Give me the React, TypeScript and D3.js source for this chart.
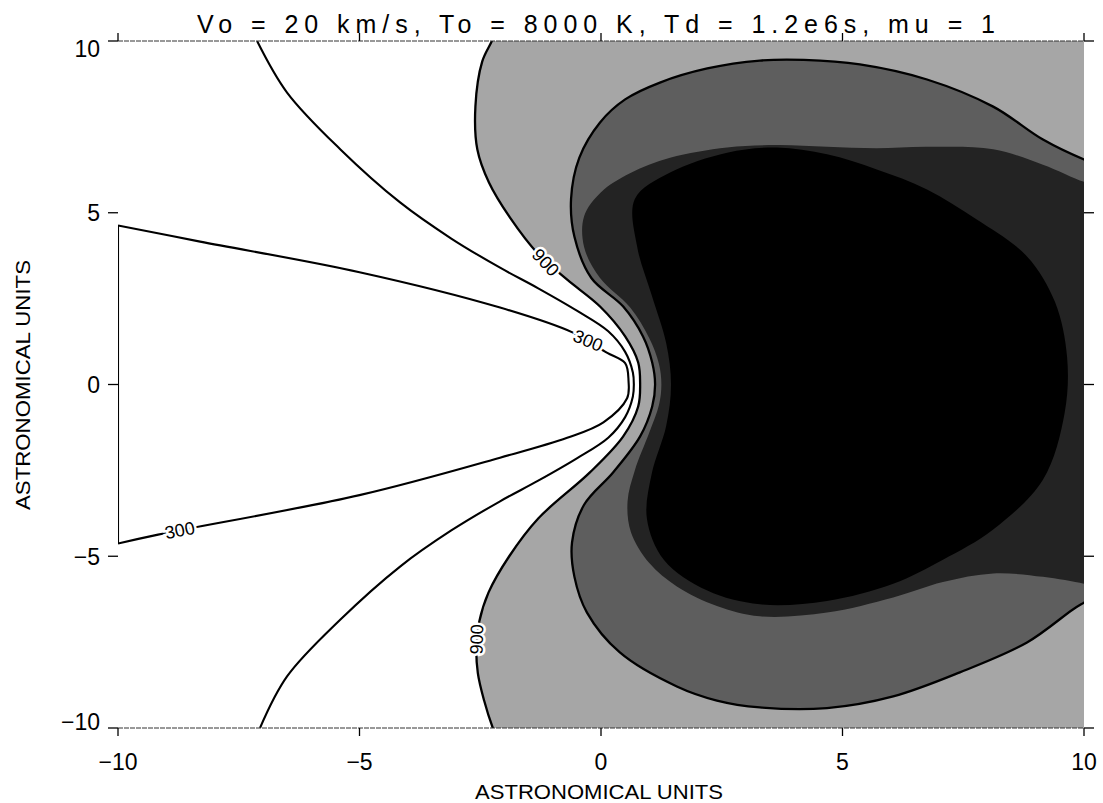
import React from "react";
import * as d3 from "d3";

type Pt = [number, number];

// ---- text / ticks ----
const titleText = "Vo = 20 km/s, To = 8000 K, Td = 1.2e6s, mu = 1";
const xAxisTitle = "ASTRONOMICAL UNITS";
const yAxisTitle = "ASTRONOMICAL UNITS";
const xTicks = [-10, -5, 0, 5, 10];
const yTicks = [-10, -5, 0, 5, 10];

// ---- contour lines (data units, AU) ----
const contour300: Pt[] = [
  [-10, 4.63], [-8.3, 4.16], [-5, 3.27], [-2.09, 2.24], [-0.58, 1.51], [0.12, 0.93],
  [0.5, 0.62], [0.57, 0.1], [0.54, -0.4], [0.05, -1.1], [-0.7, -1.55], [-2.09, -2.13],
  [-5, -3.22], [-9.17, -4.37], [-10, -4.63],
];

const contour600: Pt[] = [
  [-7.12, 10], [-6.5, 8.5], [-5.4, 6.85], [-4.16, 5.3], [-3.1, 4.25],
  [-2.09, 3.4], [-1.3, 2.8], [-0.5, 2.15], [0.15, 1.55], [0.5, 0.95], [0.66, 0.35], [0.68, 0],
  [0.66, -0.35], [0.5, -0.95], [0.15, -1.55], [-0.5, -2.15], [-1.3, -2.8], [-2.09, -3.4],
  [-3.1, -4.25], [-4.16, -5.3], [-5.4, -6.85], [-6.5, -8.5], [-7.06, -10],
];

const contour900: Pt[] = [
  [-2.15, 10.4], [-2.26, 10], [-2.46, 9.4], [-2.6, 8.1], [-2.56, 6.84], [-2.32, 5.88],
  [-1.88, 4.85], [-1.3, 3.8], [-0.7, 3.05], [-0.02, 2.27], [0.5, 1.4], [0.77, 0.64],
  [0.81, 0], [0.77, -0.64], [0.46, -1.51], [-0.23, -2.56], [-1.3, -3.9], [-1.9, -5.0],
  [-2.33, -6.06], [-2.52, -6.9], [-2.58, -7.6], [-2.55, -8.4], [-2.42, -9.2], [-2.24, -10],
  [-2.12, -10.4],
];

const contour1200: Pt[] = [
  [10.3, 6.4], [10, 6.55], [9.15, 7.13], [8.12, 8.09], [6.75, 8.88], [5.36, 9.32], [4.2, 9.45],
  [3.29, 9.43], [2.2, 9.2], [1.22, 8.79], [0.5, 8.3], [-0.02, 7.63], [-0.45, 6.6], [-0.62, 5.4],
  [-0.55, 4.3], [-0.2, 3.1], [0.46, 2.27], [0.87, 1.4], [1.06, 0.64], [1.12, 0], [1.06, -0.64],
  [0.81, -1.51], [0.25, -2.56], [-0.35, -3.5], [-0.6, -4.6], [-0.55, -5.6], [-0.29, -6.64],
  [0.39, -7.8], [1.57, -8.79], [2.4, -9.2], [3.29, -9.4], [4.68, -9.42], [6.05, -9.08],
  [7.43, -8.38], [8.82, -7.51], [9.77, -6.55], [10, -6.35], [10.3, -6.1],
];

const contour1500: Pt[] = [
  [10.3, 5.8], [10, 5.9], [9.15, 6.4], [8.12, 6.85], [6.75, 6.92], [5.7, 6.88], [4.68, 6.92],
  [3.64, 6.97], [2.61, 6.9], [1.43, 6.6], [0.6, 6.15], [0.0, 5.6], [-0.35, 4.9], [-0.35, 4.0],
  [-0.02, 3.1], [0.6, 2.25], [1.0, 1.35], [1.2, 0.6], [1.25, 0], [1.2, -0.6], [1.0, -1.4],
  [0.7, -2.5], [0.55, -3.4], [0.62, -4.3], [1.0, -5.2], [1.57, -5.88], [2.4, -6.45],
  [3.29, -6.75], [4.68, -6.64], [6.05, -6.2], [7.08, -5.75], [8.12, -5.5], [9.15, -5.6],
  [10, -5.8], [10.3, -5.9],
];

const contour1800: Pt[] = [
  [0.7, 5.4], [1.43, 6.17], [2.61, 6.75], [3.64, 6.9], [4.68, 6.7], [5.71, 6.26], [6.75, 5.68],
  [7.78, 4.8], [8.82, 3.73], [9.4, 2.4], [9.65, 0.8], [9.6, -0.82], [9.15, -2.77], [8.12, -4.22],
  [7.08, -5.1], [6.05, -5.8], [4.68, -6.3], [3.29, -6.4], [2.2, -6.0], [1.3, -5.1], [0.95, -3.9],
  [1.05, -2.6], [1.35, -1.2], [1.45, 0], [1.35, 1.2], [1.05, 2.6], [0.75, 4.0],
];

const labelText = ["300", "300", "900", "900"];
const labelContour = ["300", "300", "900", "900"];
const labelAt: Pt[] = [[-0.27, 1.27], [-8.72, -4.25], [-1.15, 3.55], [-2.57, -7.42]];

const contourByName: Record<string, Pt[]> = {
  "300": contour300,
  "600": contour600,
  "900": contour900,
  "1200": contour1200,
};

const FONT = "'Liberation Sans', Arial, Helvetica, sans-serif";

export default function App() {
  const W = 1103;
  const H = 803;
  const x = d3.scaleLinear().domain([-10, 10]).range([118, 1084]);
  const y = d3.scaleLinear().domain([-10, 10]).range([728, 41]);

  const open = d3
    .line<Pt>()
    .x((d) => x(d[0]))
    .y((d) => y(d[1]))
    .curve(d3.curveCatmullRom.alpha(0.5));
  const closed = d3
    .line<Pt>()
    .x((d) => x(d[0]))
    .y((d) => y(d[1]))
    .curve(d3.curveCatmullRomClosed.alpha(0.5));

  const left = x(-10), right = x(10), top = y(10), bottom = y(-10);

  const g1Path = open(contour900) + `L${x(10.5)},${y(-10.5)}L${x(10.5)},${y(10.5)}Z`;
  const g2Path = open(contour1200) + "Z";
  const g3Path = open(contour1500) + "Z";
  const corePath = closed(contour1800) || "";

  const labelAngle = (pts: Pt[], at: Pt) => {
    let best = 0, bd = Infinity;
    pts.forEach((p, i) => {
      const d = (p[0] - at[0]) ** 2 + (p[1] - at[1]) ** 2;
      if (d < bd) { bd = d; best = i; }
    });
    const p0 = pts[Math.max(best - 1, 0)];
    const p1 = pts[Math.min(best + 1, pts.length - 1)];
    let a = (Math.atan2(y(p1[1]) - y(p0[1]), x(p1[0]) - x(p0[0])) * 180) / Math.PI;
    if (a > 90) a -= 180;
    if (a < -90) a += 180;
    return a;
  };

  const tickFs = 23;
  return (
    <svg
      width={W}
      height={H}
      style={{ position: "absolute", left: 0, top: 0, display: "block", background: "#fff" }}
    >
      <defs>
        <clipPath id="plotClip">
          <rect x={left} y={top} width={right - left} height={bottom - top} />
        </clipPath>
      </defs>
      <rect x={0} y={0} width={W} height={H} fill="#fff" />
      <g clipPath="url(#plotClip)">
        <path d={g1Path} fill="#a6a6a6" />
        <path d={g2Path} fill="#5e5e5e" />
        <path d={g3Path} fill="#232323" />
        <path d={corePath} fill="#000" />
        <path d={open(contour1200) || ""} fill="none" stroke="#000" strokeWidth={2.3} />
        <path d={open(contour900) || ""} fill="none" stroke="#000" strokeWidth={2.3} />
        <path d={open(contour600) || ""} fill="none" stroke="#000" strokeWidth={2.1} />
        <path d={open(contour300) || ""} fill="none" stroke="#000" strokeWidth={2.1} />
        <line
          x1={x(-10)} x2={x(-10)}
          y1={y(contour300[0][1])} y2={y(contour300[contour300.length - 1][1])}
          stroke="#000" strokeWidth={2.1}
        />
      </g>
      {labelText.map((t, i) => {
        const at = labelAt[i];
        const a = labelAngle(contourByName[labelContour[i]], at);
        return (
          <text
            key={i}
            x={x(at[0])}
            y={y(at[1])}
            transform={`rotate(${a},${x(at[0])},${y(at[1])})`}
            textAnchor="middle"
            dominantBaseline="central"
            fontFamily={FONT}
            fontSize={18}
            fill="#000"
            stroke="#fff"
            strokeWidth={5}
            paintOrder="stroke"
          >
            {t}
          </text>
        );
      })}
      {/* frame (faint, as in the scan) */}
      <line x1={left} x2={right} y1={top} y2={top} stroke="#333" strokeWidth={1} strokeDasharray="5 1" />
      <line x1={left} x2={right} y1={bottom} y2={bottom} stroke="#333" strokeWidth={1} strokeDasharray="5 1" />
      {/* ticks */}
      {xTicks.map((t) => (
        <g key={"xt" + t}>
          <line x1={x(t)} x2={x(t)} y1={bottom} y2={bottom + 8} stroke="#000" strokeWidth={1.3} />
          <line x1={x(t)} x2={x(t)} y1={top} y2={top - 8} stroke="#000" strokeWidth={1.3} />
          <text
            x={x(t)}
            y={770}
            textAnchor="middle"
            fontFamily={FONT}
            fontSize={tickFs}
            fill="#000"
          >
            {t < 0 ? "\u2212" + Math.abs(t) : String(t)}
          </text>
        </g>
      ))}
      {yTicks.map((t) => {
        const cy = Math.min(Math.max(y(t), top + 8), bottom - 6);
        return (
          <g key={"yt" + t}>
            <line x1={left - 10} x2={left} y1={y(t)} y2={y(t)} stroke="#000" strokeWidth={1.3} />
            <line x1={right} x2={right + 10} y1={y(t)} y2={y(t)} stroke="#000" strokeWidth={1.3} />
            <text
              x={100}
              y={cy + tickFs * 0.36}
              textAnchor="end"
              fontFamily={FONT}
              fontSize={tickFs}
              fill="#000"
            >
              {t < 0 ? "\u2212" + Math.abs(t) : String(t)}
            </text>
          </g>
        );
      })}
      {/* titles */}
      <text
        x={596}
        y={33}
        textAnchor="middle"
        fontFamily={FONT}
        fontSize={25}
        textLength={798}
        lengthAdjust="spacing"
        fill="#000"
      >
        {titleText}
      </text>
      <text
        x={599}
        y={799}
        textAnchor="middle"
        fontFamily={FONT}
        fontSize={21}
        textLength={248}
        lengthAdjust="spacingAndGlyphs"
        fill="#000"
      >
        {xAxisTitle}
      </text>
      <text
        x={0}
        y={0}
        transform={`translate(30,385) rotate(-90)`}
        textAnchor="middle"
        fontFamily={FONT}
        fontSize={21}
        textLength={250}
        lengthAdjust="spacingAndGlyphs"
        fill="#000"
      >
        {yAxisTitle}
      </text>
    </svg>
  );
}
